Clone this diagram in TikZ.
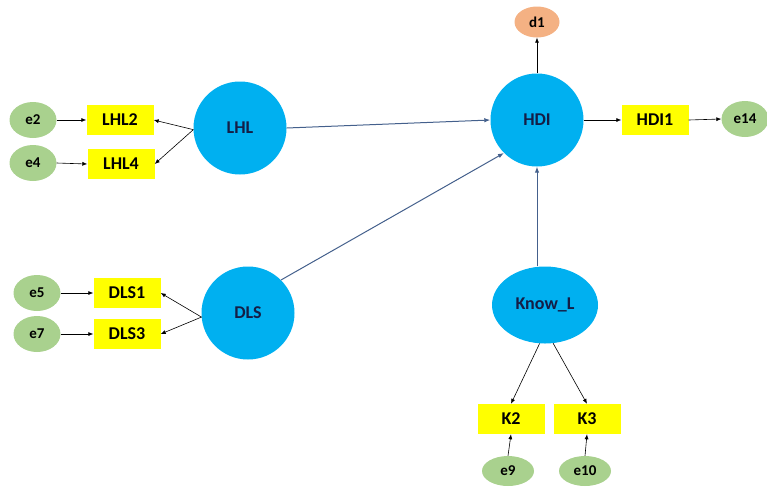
\documentclass[tikz,border=0pt]{standalone}
\usepackage{fontspec}
\setmainfont{Carlito}
\usepackage{tikz}
\usetikzlibrary{
  positioning, arrows.meta,
  shapes.geometric
}

\definecolor{latblue}{RGB}{0,176,240}
\definecolor{indyellow}{RGB}{255,255,0}
\definecolor{errgreen}{RGB}{169,209,142}
\definecolor{distorange}{RGB}{244,177,131}
\definecolor{pathblue}{RGB}{68,96,140}
\definecolor{latext}{RGB}{20,30,70}

\tikzset{
  latent/.style={circle, fill=latblue, minimum size=93pt, inner sep=0pt,
    font=\fontsize{18}{21}\selectfont\bfseries, text=latext},
  latentoval/.style={ellipse, fill=latblue, minimum width=106pt, minimum height=77pt,
    inner sep=0pt, font=\fontsize{18}{21}\selectfont\bfseries, text=latext},
  indbox/.style={rectangle, fill=indyellow, minimum width=67pt, minimum height=30pt,
    inner sep=0pt, font=\fontsize{18}{21}\selectfont\bfseries},
  errnode/.style={ellipse, fill=errgreen, minimum width=47pt, minimum height=36pt,
    inner sep=0pt, font=\fontsize{15}{18}\selectfont\bfseries},
  distnode/.style={ellipse, fill=distorange, minimum width=45pt, minimum height=31pt,
    inner sep=0pt, font=\fontsize{15}{18}\selectfont\bfseries},
  load/.style={-{Latex[length=5pt,width=4pt]}, black, line width=0.6pt},
  path/.style={-{Latex[length=6pt,width=4.5pt]}, pathblue, line width=1pt}
}

\begin{document}
\begin{tikzpicture}[x=1pt,y=-1pt]
      \useasboundingbox (0,0) rectangle (767,491);
      % latent variables
      \node[latent] (LHL) at (240,128) {LHL};
      \node[latent] (DLS) at (248,313) {DLS};
      \node[latent] (HDI) at (537,120) {HDI};
      \node[latentoval] (KnowL) at (545,305) {Know\_L};
      % indicators
      \node[indbox] (LHL2) at (120,120) {LHL2};
      \node[indbox] (LHL4) at (121,164) {LHL4};
      \node[indbox] (DLS1) at (127,293) {DLS1};
      \node[indbox] (DLS3) at (127,334) {DLS3};
      \node[indbox] (HDI1) at (655,120) {HDI1};
      \node[indbox] (K2) at (511,419) {K2};
      \node[indbox] (K3) at (587,419) {K3};
      % errors
      \node[errnode] (e2) at (33,120) {e2};
      \node[errnode] (e4) at (33,163) {e4};
      \node[errnode] (e5) at (37,293) {e5};
      \node[errnode] (e7) at (37,334) {e7};
      \node[errnode] (e14) at (745,119) {e14};
      \node[errnode, minimum width=52pt, minimum height=30pt] (e9) at (508,471) {e9};
      \node[errnode, minimum width=52pt, minimum height=30pt] (e10) at (585,471) {e10};
      \node[distnode] (d1) at (537,22) {d1};
      % structural paths
      \draw[path] (LHL.east) -- (HDI.west);
      \draw[path] (DLS.north east) -- (HDI.225);
      \draw[path] (HDI.south |- KnowL.north) -- (HDI.south);
      \draw[load] (HDI.north) -- (d1.south);
      % measurement paths
      \draw[load] (LHL.182) -- (LHL2.east);
      \draw[load] (LHL.182) -- (LHL4.east);
      \draw[load] (DLS.185) -- (DLS1.east);
      \draw[load] (DLS.185) -- (DLS3.east);
      \draw[load] (HDI.east) -- (HDI1.west);
      \draw[load] (KnowL.262) -- (K2.north);
      \draw[load] (KnowL.282) -- (K3.north);
      \draw[load] (HDI1.east) -- (e14.west);
      \foreach \e/\i in {e2/LHL2,e4/LHL4,e5/DLS1,e7/DLS3}
      \draw[load] (\e.east) -- (\i.west);
      \foreach \e/\i in {e9/K2,e10/K3}
      \draw[load] (\e.north) -- (\i.south);
    \end{tikzpicture}
\end{document}
